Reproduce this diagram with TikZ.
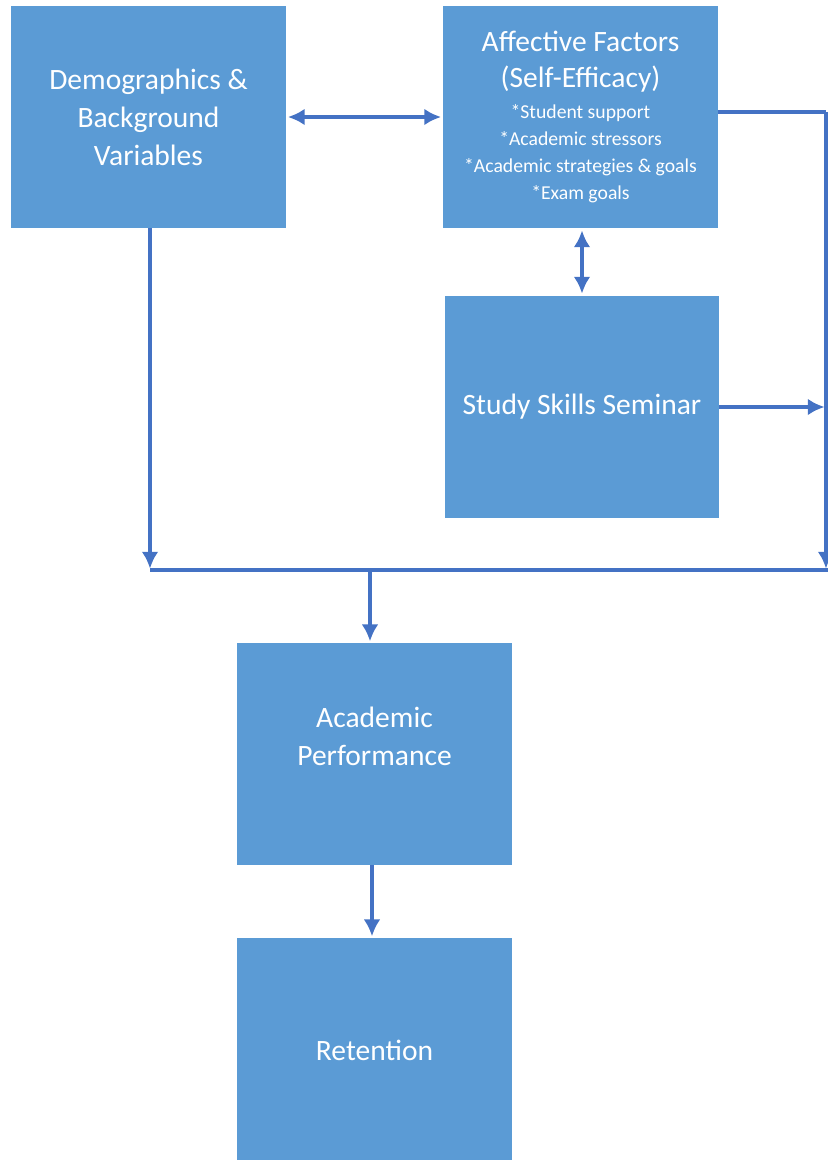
\documentclass[tikz,border=0pt]{standalone}
\usepackage{fontspec}
\setmainfont{Carlito}
\usetikzlibrary{arrows.meta,positioning}
\definecolor{boxblue}{HTML}{5B9BD5}
\definecolor{lineblue}{HTML}{4472C4}
\newcommand{\bigtxt}{\fontsize{21}{27}\selectfont}
\newcommand{\smalltxt}{\fontsize{14}{19}\selectfont}
\tikzset{
	box/.style={draw=none, fill=boxblue, text=white, align=center,
		minimum width=6.85cm, minimum height=5.55cm, inner sep=0pt, font=\bigtxt},
	boxtext/.style={text=white, align=center, inner sep=0pt, font=\bigtxt},
	link/.style={draw=lineblue, line width=3pt},
	linkarrow/.style={link, -{Latex[length=0.42cm,width=0.42cm]}, shorten >=1pt},
	linkboth/.style={link, {Latex[length=0.42cm,width=0.42cm]}-{Latex[length=0.42cm,width=0.42cm]},
		shorten >=1.5pt, shorten <=1.5pt},
}

\begin{document}
\begin{tikzpicture}[x=0.025cm, y=-0.025cm]
	\useasboundingbox (0,0) rectangle (828,1160);
	%
	\node[box] (demo) at (148.5,117) {Demographics \&\\Background\\Variables};
	\node[box] (affect) at (580.5,117) {Affective Factors\\[-1.5pt](Self-Efficacy)\\[-4.5pt]
		\smalltxt *Student support\\[-7.8pt]\smalltxt *Academic stressors\\[-7.8pt]
		\smalltxt *Academic strategies \& goals\\[-7.8pt]\smalltxt *Exam goals};
	\node[box] (study) at (582,407) {Study Skills Seminar};
	\node[box] (perf) at (374.5,754) {};
	\node[boxtext, yshift=0.45cm] (perftext) at (perf.center) {Academic\\Performance};
	\node[box, minimum height=5.6cm] (ret) at (374.5,1050) {Retention};
	%
	\coordinate (railtop) at (826,112);
	\coordinate (railbot) at (826,570);
	\coordinate (busleft) at (150,570);
	\coordinate (busright) at (830,570);
	\coordinate (tap) at (370,570);
	%
	\draw[linkboth] (demo.east) -- (affect.west);
	\draw[linkboth] (affect.south -| study.north) -- (study.north);
	%
	\draw[link] (affect.east |- railtop) -- (railtop);
	\draw[linkarrow] (railtop) -- (railbot);
	\draw[linkarrow] (study.east) -- (study.east -| railtop);
	%
	\draw[linkarrow] (demo.south -| busleft) -- (busleft);
	\draw[link] (busleft) -- (busright);
	\draw[linkarrow] (tap) -- (tap |- perf.north);
	\draw[linkarrow] (perf.south -| 372,0) -- (ret.north -| 372,0);
\end{tikzpicture}
\end{document}
